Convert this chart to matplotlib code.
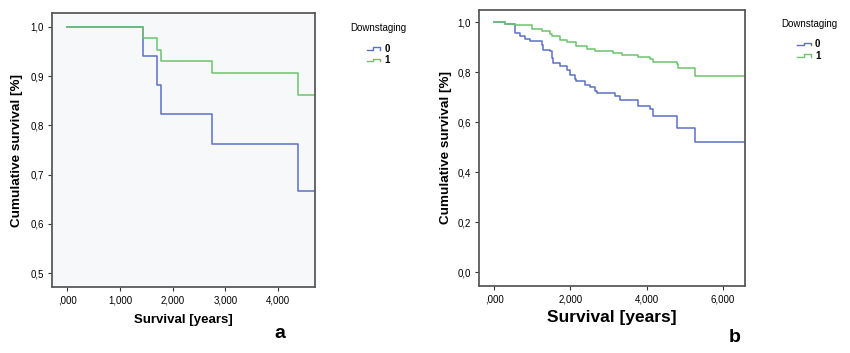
import matplotlib
matplotlib.use("Agg")
import matplotlib.pyplot as plt
from matplotlib.lines import Line2D
from matplotlib.legend_handler import HandlerBase
from matplotlib.ticker import FuncFormatter

plt.rcParams["font.family"] = ["Liberation Sans", "DejaVu Sans"]

# =========================================
# Data
# =========================================
# panel a
a_time_0 = [0.0, 1.44, 1.71, 1.77, 2.75, 4.38, 4.70]
a_surv_0 = [1.000, 0.941, 0.882, 0.824, 0.762, 0.667, 0.667]
a_time_1 = [0.0, 1.44, 1.71, 1.77, 2.75, 4.38, 4.70]
a_surv_1 = [1.000, 0.977, 0.954, 0.931, 0.906, 0.862, 0.862]

# panel b
b_time_0 = [0.0, 0.28, 0.54, 0.675, 0.81, 0.94, 1.245, 1.29, 1.47, 1.51,
            1.55, 1.73, 1.90, 1.99, 2.12, 2.16, 2.38, 2.52, 2.65, 2.69,
            3.17, 3.30, 3.78, 4.09, 4.18, 4.79, 5.27, 6.59]
b_surv_0 = [1.000, 0.993, 0.957, 0.944, 0.933, 0.924, 0.911, 0.891, 0.884, 0.857,
            0.837, 0.827, 0.811, 0.790, 0.773, 0.764, 0.750, 0.741, 0.724, 0.717,
            0.704, 0.688, 0.666, 0.653, 0.624, 0.577, 0.521, 0.521]
b_time_1 = [0.0, 0.28, 0.54, 0.98, 1.245, 1.47, 1.51, 1.73, 1.90, 2.16,
            2.43, 2.65, 3.13, 3.35, 3.78, 4.09, 4.18, 4.79, 4.84, 5.27, 6.59]
b_surv_1 = [1.000, 0.993, 0.988, 0.973, 0.967, 0.953, 0.944, 0.931, 0.921, 0.904,
            0.895, 0.887, 0.877, 0.871, 0.861, 0.855, 0.840, 0.832, 0.817, 0.786, 0.786]

groups = ["0", "1"]
colors = ["#5b70c8", "#6cc46c"]

a_xticks = [0, 1, 2, 3, 4]
a_yticks = [0.5, 0.6, 0.7, 0.8, 0.9, 1.0]
b_xticks = [0, 2, 4, 6]
b_yticks = [0.0, 0.2, 0.4, 0.6, 0.8, 1.0]


# =========================================
# Helpers
# =========================================
def x_label(v, pos):
    # SPSS style: ",000", "1,000", ...
    s = f"{v:.3f}".replace(".", ",")
    if s.startswith("0,"):
        s = s[1:]
    return s


def y_label(v, pos):
    return f"{v:.1f}".replace(".", ",")


class StepHandler(HandlerBase):
    def create_artists(self, legend, orig_handle, xdescent, ydescent,
                       width, height, fontsize, trans):
        lo = -ydescent + height * 0.25
        hi = -ydescent + height * 0.65
        x0 = -xdescent
        xs = [x0, x0 + 0.45 * width, x0 + 0.45 * width, x0 + width, x0 + width]
        ys = [lo, lo, hi, hi, lo]
        ln = Line2D(xs, ys, color=orig_handle.get_color(), lw=1.0,
                    transform=trans)
        return [ln]


def style_axes(ax):
    for sp in ax.spines.values():
        sp.set_color("#5a5a5a")
        sp.set_linewidth(1.3)
    ax.tick_params(direction="out", length=3, width=0.8, color="#333333",
                   labelsize=7, pad=3)
    ax.xaxis.set_major_formatter(FuncFormatter(x_label))
    ax.yaxis.set_major_formatter(FuncFormatter(y_label))


def add_legend(ax, anchor):
    handles = [Line2D([], [], color=c) for c in colors]
    leg = ax.legend(handles, groups, title="Downstaging", loc="upper center",
                    bbox_to_anchor=anchor, frameon=False, fontsize=7,
                    title_fontsize=7, handlelength=1.4, handletextpad=0.4,
                    labelspacing=0.15,
                    handler_map={Line2D: StepHandler()})
    leg._legend_box.sep = 7.5
    for t in leg.get_texts():
        t.set_fontweight("bold")


# =========================================
# Figure
# =========================================
fig = plt.figure(figsize=(8.5, 3.53), dpi=100)

# ----- panel a -----
ax1 = fig.add_axes([0.0612, 0.187, 0.3094, 0.776])
ax1.set_facecolor("#f7f8fa")
ax1.step(a_time_0, a_surv_0, where="post", color=colors[0], lw=1.1)
ax1.step(a_time_1, a_surv_1, where="post", color=colors[1], lw=1.1)
ax1.set_xlim(-0.29, 4.70)
ax1.set_ylim(0.472, 1.028)
ax1.set_xticks(a_xticks)
ax1.set_yticks(a_yticks)
style_axes(ax1)
ax1.set_xlabel("Survival [years]", fontsize=9.5, fontweight="bold", labelpad=6)
ax1.set_ylabel("Cumulative survival [%]", fontsize=9.7, fontweight="bold",
               labelpad=5)
add_legend(ax1, (1.24, 0.995))
fig.text(280 / 850, 1 - 333 / 353, "a", fontsize=14, fontweight="bold",
         ha="center", va="center")

# ----- panel b -----
ax2 = fig.add_axes([0.564, 0.1907, 0.3126, 0.781])
ax2.set_facecolor("white")
ax2.step(b_time_0, b_surv_0, where="post", color=colors[0], lw=1.1)
ax2.step(b_time_1, b_surv_1, where="post", color=colors[1], lw=1.1)
ax2.set_xlim(-0.39, 6.59)
ax2.set_ylim(-0.054, 1.05)
ax2.set_xticks(b_xticks)
ax2.set_yticks(b_yticks)
style_axes(ax2)
ax2.set_xlabel("Survival [years]", fontsize=12.5, fontweight="bold", labelpad=4)
ax2.set_ylabel("Cumulative survival [%]", fontsize=9.7, fontweight="bold",
               labelpad=4)
add_legend(ax2, (1.24, 1.0))
fig.text(735 / 850, 1 - 338 / 353, "b", fontsize=14, fontweight="bold",
         ha="center", va="center")

fig.savefig("out.png", dpi=100)
plt.close(fig)
